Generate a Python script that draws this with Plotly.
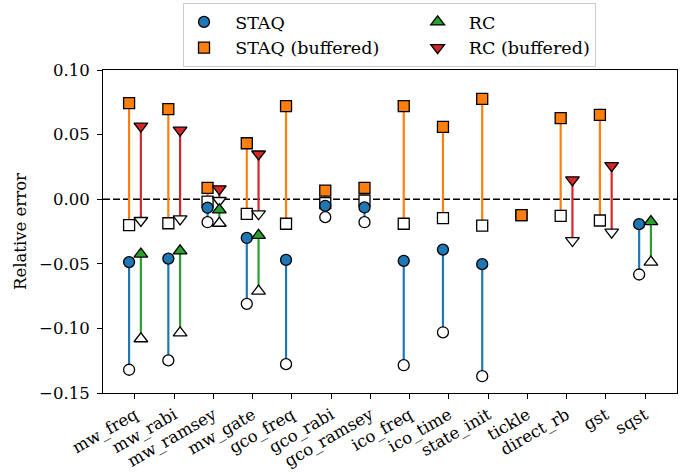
import plotly.graph_objects as go

categories = ["mw_freq", "mw_rabi", "mw_ramsey", "mw_gate", "gco_freq", "gco_rabi",
              "gco_ramsey", "ico_freq", "ico_time", "state_init", "tickle",
              "direct_rb", "gst", "sqst"]

# filled marker value / hollow marker value for each series
staq_filled = [-0.0487, -0.046, -0.0066, -0.030, -0.047, -0.0051, -0.0064, -0.0477,
               -0.039, -0.0503, None, None, None, -0.0193]
staq_hollow = [-0.132, -0.1248, -0.0178, -0.081, -0.1277, -0.0139, -0.0178, -0.1285,
               -0.103, -0.137, None, None, None, -0.0583]

staq_buf_filled = [0.0743, 0.0697, 0.0088, 0.0433, 0.072, 0.0067, 0.0088, 0.072,
                   0.056, 0.0777, -0.0124, 0.0627, 0.0653, None]
staq_buf_hollow = [-0.020, -0.0186, -0.0018, -0.0113, -0.019, -0.003, -0.001, -0.019,
                   -0.0147, -0.0204, -0.0124, -0.0129, -0.0165, None]

rc_filled = [-0.0425, -0.040, -0.0082, -0.028, None, None, None, None, None, None,
             None, None, None, -0.0173]
rc_hollow = [-0.108, -0.1034, -0.0186, -0.0712, None, None, None, None, None, None,
             None, None, None, -0.0487]

rc_buf_filled = [0.0565, 0.0534, 0.008, 0.035, None, None, None, None, None, None,
                 None, 0.015, 0.026, None]
rc_buf_hollow = [-0.0165, -0.0152, -0.001, -0.0113, None, None, None, None, None, None,
                 None, -0.032, -0.0255, None]

OFFSET = 0.15
BLUE, ORANGE, GREEN, RED = "#1f77b4", "#ff7f0e", "#2ca02c", "#d62728"
NB = "\u00a0"

series = [
    # name, filled, hollow, offset, color, symbol, rank, size, trailing pad
    ("STAQ (buffered)", staq_buf_filled, staq_buf_hollow, -OFFSET, ORANGE, "square", 3, 11, 6),
    ("RC (buffered)", rc_buf_filled, rc_buf_hollow, OFFSET, RED, "triangle-down", 4, 12, 0),
    ("STAQ", staq_filled, staq_hollow, -OFFSET, BLUE, "circle", 1, 11, 0),
    ("RC", rc_filled, rc_hollow, OFFSET, GREEN, "triangle-up", 2, 12, 0),
]

fig = go.Figure()

for name, filled, hollow, off, color, sym, rank, msize, tpad in series:
    xs, fy, hy, lx, ly = [], [], [], [], []
    for i, (a, b) in enumerate(zip(filled, hollow)):
        if a is None:
            continue
        x = i + off
        xs.append(x)
        fy.append(a)
        hy.append(b)
        lx += [x, x, None]
        ly += [a, b, None]
    fig.add_trace(go.Scatter(x=lx, y=ly, mode="lines", line=dict(color=color, width=2.2),
                             showlegend=False, hoverinfo="skip"))
    fig.add_trace(go.Scatter(x=xs, y=hy, mode="markers", showlegend=False,
                             marker=dict(symbol=sym, size=msize, color="white",
                                         line=dict(color="black", width=1.3))))
    fig.add_trace(go.Scatter(x=xs, y=fy, mode="markers",
                             name=NB * 2 + name + NB * tpad, legendrank=rank,
                             marker=dict(symbol=sym, size=msize, color=color,
                                         line=dict(color="black", width=1.3))))

fig.add_shape(type="line", xref="paper", x0=0, x1=1, yref="y", y0=0, y1=0,
              line=dict(color="black", width=1.5, dash="7px,3px"), layer="below")

FF = "DejaVu Serif"
tickfont = dict(family=FF, size=16.5, color="black")
fig.update_layout(
    width=694, height=474,
    margin=dict(l=103, r=17, t=70, b=81, autoexpand=False),
    paper_bgcolor="white", plot_bgcolor="white",
    font=dict(family=FF, size=16.5, color="black"),
    legend=dict(orientation="h", x=0.1394, xanchor="left", y=1.2074, yanchor="top",
                bgcolor="white", bordercolor="#cccccc", borderwidth=1,
                font=dict(family=FF, size=17.5, color="black")),
    xaxis=dict(range=[-0.815, 13.815], tickmode="array",
               tickvals=list(range(len(categories))), ticktext=categories,
               tickangle=-30, ticks="outside", ticklen=5, tickwidth=1, tickcolor="black",
               tickfont=tickfont,
               showline=True, linecolor="black", linewidth=1, mirror=True,
               showgrid=False, zeroline=False),
    yaxis=dict(range=[-0.15, 0.10], tickmode="array",
               tickvals=[-0.15, -0.10, -0.05, 0.0, 0.05, 0.10], tickformat=".2f",
               ticks="outside", ticklen=5, tickwidth=1, tickcolor="black",
               tickfont=tickfont, ticklabelstandoff=4,
               showline=True, linecolor="black", linewidth=1, mirror=True,
               showgrid=False, zeroline=False,
               title=dict(text="Relative error", standoff=8,
                          font=dict(family=FF, size=16.5, color="black"))),
)

fig.write_html("out.html", config={"displayModeBar": False},
               post_script="document.body.style.margin='0px';")
